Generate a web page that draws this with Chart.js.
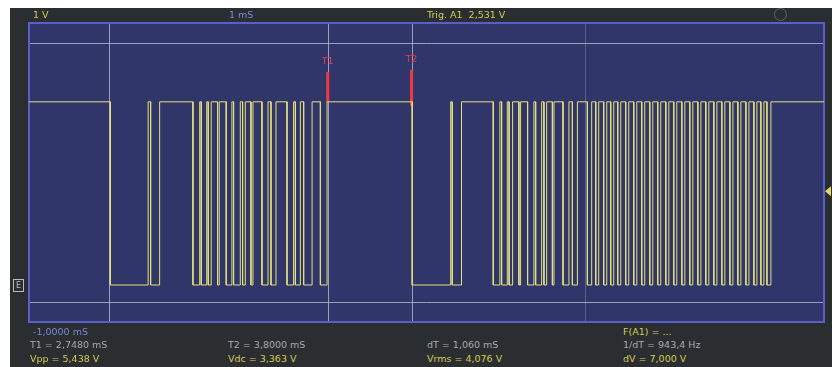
<!DOCTYPE html>
<html>
<head>
<meta charset="utf-8">
<script src="https://cdn.jsdelivr.net/npm/chart.js@4.4.1/dist/chart.umd.min.js"></script>
<style>
body{margin:0;background:#fff;width:832px;height:367px;overflow:hidden;}
#scope{position:absolute;left:10px;top:8px;width:822px;height:359px;background:#2b2e31;}
#box{position:absolute;left:12px;top:19px;width:820px;height:307px;}
.t{position:absolute;font-family:"DejaVu Sans",sans-serif;font-size:9.5px;line-height:12px;white-space:nowrap;}
.y{color:#d2cc52}.g{color:#a6a8b0}.b{color:#7589d6}.r{color:#ee3a40;font-size:9.5px}
#gnd{position:absolute;left:13px;top:279px;width:9px;height:11px;border:1px solid #b8bac4;color:#b8bac4;font-family:"DejaVu Sans",sans-serif;font-size:8px;line-height:11px;text-align:center;}
#knob{position:absolute;left:774px;top:8px;width:11px;height:11px;border:1px solid #5e6168;border-radius:50%;}
</style>
</head>
<body>
<div id="scope"></div>
<div id="knob"></div>
<div id="box"><canvas id="mycanvas" width="820" height="307"></canvas></div>
<div id="gnd">E</div>

<div class="t y" style="left:33px;top:9px">1 V</div>
<div class="t b" style="left:229px;top:9px">1 mS</div>
<div class="t y" style="left:427px;top:9px">Trig. A1&nbsp; 2,531 V</div>

<div class="t b" style="left:33px;top:326px">-1,0000 mS</div>
<div class="t y" style="left:623px;top:326px">F(A1) = ...</div>
<div class="t g" style="left:30px;top:339px">T1 = 2,7480 mS</div>
<div class="t g" style="left:228px;top:339px">T2 = 3,8000 mS</div>
<div class="t g" style="left:427px;top:339px">dT = 1,060 mS</div>
<div class="t g" style="left:623px;top:339px">1/dT = 943,4 Hz</div>
<div class="t y" style="left:30px;top:353px">Vpp = 5,438 V</div>
<div class="t y" style="left:228px;top:353px">Vdc = 3,363 V</div>
<div class="t y" style="left:427px;top:353px">Vrms = 4,076 V</div>
<div class="t y" style="left:623px;top:353px">dV = 7,000 V</div>

<div class="t r" id="lblT1">T1</div>
<div class="t r" id="lblT2">T2</div>

<script>
// screen: -1 ms left edge, 1 mS/div
var xMin = -1.0, xMax = 8.975;
var yMin = -1.0, yMax = 7.08;

// signal levels (V) and edge times (ms), signal starts high
var highV = 4.95;
var lowV = 0.0;
var edgesMs = [0.02, 0.495, 0.526, 0.639,
  1.057, 1.142, 1.161, 1.230, 1.249, 1.286, 1.366, 1.387, 1.475, 1.546, 1.567, 1.651,
  1.680, 1.714, 1.785, 1.810, 1.923, 1.999, 2.036, 2.099, 2.237, 2.320, 2.342, 2.405,
  2.446, 2.552, 2.656, 2.740,
  3.808, 4.291, 4.310, 4.427,
  4.825, 4.908, 4.930, 5.001, 5.024, 5.068, 5.147, 5.168, 5.256, 5.335, 5.357, 5.432,
  5.461, 5.495, 5.567, 5.587, 5.700, 5.775, 5.818, 5.881, 6.006, 6.060,
  6.111, 6.148, 6.211, 6.249, 6.299, 6.337, 6.387, 6.425, 6.487, 6.525, 6.588, 6.626,
  6.688, 6.726, 6.789, 6.827, 6.889, 6.927, 6.990, 7.028, 7.090, 7.128, 7.191, 7.229,
  7.291, 7.329, 7.392, 7.430, 7.492, 7.530, 7.593, 7.631, 7.693, 7.731, 7.794, 7.832,
  7.894, 7.932, 7.995, 8.033, 8.095, 8.133, 8.183, 8.221, 8.259, 8.309];

// cursors
var t1Ms = 2.748, t2Ms = 3.800;
var v1 = 6.54, v2 = -0.46;
var trigV = 2.531;
var t1Bar = [4.95, 5.76];
var t2Bar = [4.84, 5.81];
var gridMs = [0, 5.97];

var pts = [{x: xMin, y: highV}];
var lvl = highV;
for (var i = 0; i < edgesMs.length; i++) {
  pts.push({x: edgesMs[i], y: lvl});
  lvl = (lvl == highV) ? lowV : highV;
  pts.push({x: edgesMs[i], y: lvl});
}
pts.push({x: xMax, y: lvl});

var scopePlugin = {
  id: 'scope',
  beforeDraw: function(chart) {
    var c = chart.ctx, a = chart.chartArea;
    var xs = chart.scales.x, ys = chart.scales.y;
    c.save();
    c.fillStyle = '#31366a';
    c.fillRect(a.left, a.top, a.right - a.left, a.bottom - a.top);
    c.lineWidth = 1;
    c.strokeStyle = 'rgba(200,202,220,0.7)';
    var vx = gridMs.concat([t1Ms, t2Ms]);
    for (var i = 0; i < vx.length; i++) {
      var px = Math.round(xs.getPixelForValue(vx[i])) + 0.5;
      c.globalAlpha = (i == 1) ? 0.4 : 1;
      c.beginPath(); c.moveTo(px, a.top); c.lineTo(px, a.bottom); c.stroke();
    }
    c.globalAlpha = 1;
    [v1, v2].forEach(function(v) {
      var py = Math.round(ys.getPixelForValue(v)) + 0.5;
      c.beginPath(); c.moveTo(a.left, py); c.lineTo(a.right, py); c.stroke();
    });
    c.strokeStyle = '#5a5fc8';
    c.lineWidth = 2;
    c.strokeRect(a.left, a.top, a.right - a.left, a.bottom - a.top);
    c.restore();
  },
  afterDraw: function(chart) {
    var c = chart.ctx, a = chart.chartArea;
    var xs = chart.scales.x, ys = chart.scales.y;
    var ty = ys.getPixelForValue(trigV);
    c.save();
    c.fillStyle = '#e2dc60';
    c.beginPath(); c.moveTo(a.right + 1, ty); c.lineTo(a.right + 7, ty - 5); c.lineTo(a.right + 7, ty + 5); c.closePath(); c.fill();
    c.restore();
    var box = chart.canvas.parentNode;
    var l1 = document.getElementById('lblT1'), l2 = document.getElementById('lblT2');
    l1.style.left = (box.offsetLeft + xs.getPixelForValue(t1Ms) - 6) + 'px';
    l1.style.top = (box.offsetTop + ys.getPixelForValue(t1Bar[1]) - 17) + 'px';
    l2.style.left = (box.offsetLeft + xs.getPixelForValue(t2Ms) - 6) + 'px';
    l2.style.top = (box.offsetTop + ys.getPixelForValue(t2Bar[1]) - 17) + 'px';
  }
};

var ctx = document.getElementById('mycanvas');
var scopeChart = new Chart(ctx, {
  type: 'line',
  data: {
    datasets: [
      {
        label: 'A1',
        data: pts,
        borderColor: '#e4e07a',
        borderWidth: 1,
        pointRadius: 0,
        tension: 0,
        fill: false
      },
      {
        label: 'T1',
        data: [{x: t1Ms, y: t1Bar[0]}, {x: t1Ms, y: t1Bar[1]}],
        borderColor: '#ee3a40',
        borderWidth: 3,
        pointRadius: 0
      },
      {
        label: 'T2',
        data: [{x: t2Ms, y: t2Bar[0]}, {x: t2Ms, y: t2Bar[1]}],
        borderColor: '#ee3a40',
        borderWidth: 3,
        pointRadius: 0
      }
    ]
  },
  options: {
    responsive: false,
    animation: false,
    layout: {padding: {left: 17, right: 8, top: 4, bottom: 4}},
    plugins: {legend: {display: false}, tooltip: {enabled: false}},
    scales: {
      x: {type: 'linear', min: xMin, max: xMax, display: false},
      y: {type: 'linear', min: yMin, max: yMax, display: false}
    }
  },
  plugins: [scopePlugin]
});
</script>
</body>
</html>
